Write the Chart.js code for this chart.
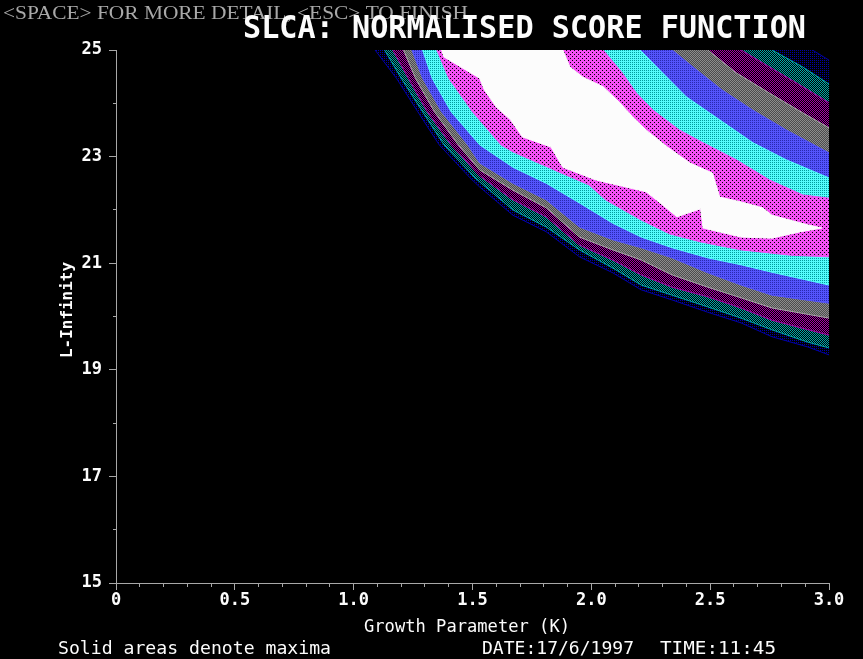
<!DOCTYPE html>
<html>
<head>
<meta charset="utf-8">
<title>SLCA: Normalised Score Function</title>
<script src="https://cdn.jsdelivr.net/npm/chart.js@4.4.1/dist/chart.umd.min.js"></script>
<style>
  html, body { margin: 0; padding: 0; background: #000; }
  #wrap { width: 863px; height: 659px; position: relative; }
</style>
</head>
<body>
<div id="wrap"><canvas id="c" width="863" height="659"></canvas></div>
<script>
// ---- Contour edges of the score surface: K (growth parameter) vs L-Infinity ----
// Level 1 is the outermost band, level 8 the maxima.
// Lower-left edge of each level.
const lower1K = [1.09, 1.18, 1.27, 1.36, 1.49, 1.53, 1.67, 1.81, 1.95, 2.09, 2.21, 2.34, 2.49, 2.63, 2.76, 2.91, 3.00];
const lower1L = [25.00, 24.47, 23.84, 23.22, 22.60, 22.43, 21.90, 21.59, 21.12, 20.82, 20.50, 20.31, 20.08, 19.88, 19.62, 19.43, 19.28];
const lower2K = [1.13, 1.20, 1.29, 1.38, 1.51, 1.67, 1.81, 1.95, 2.09, 2.21, 2.34, 2.49, 2.63, 2.76, 2.91, 3.00];
const lower2L = [25.00, 24.47, 23.84, 23.22, 22.60, 22.00, 21.68, 21.25, 20.91, 20.59, 20.40, 20.18, 19.97, 19.75, 19.52, 19.41];
const lower3K = [1.165, 1.23, 1.31, 1.41, 1.53, 1.67, 1.81, 1.95, 2.09, 2.21, 2.34, 2.49, 2.63, 2.76, 3.00];
const lower3L = [25.00, 24.47, 23.84, 23.22, 22.64, 22.19, 21.87, 21.34, 21.06, 20.78, 20.55, 20.37, 20.16, 19.93, 19.65];
const lower4K = [1.21, 1.26, 1.34, 1.44, 1.53, 1.67, 1.81, 1.95, 2.09, 2.21, 2.34, 2.49, 2.63, 2.76, 3.00];
const lower4L = [25.00, 24.47, 23.84, 23.22, 22.75, 22.37, 22.04, 21.49, 21.25, 21.06, 20.78, 20.55, 20.35, 20.16, 19.97];
const lower5K = [1.245, 1.29, 1.37, 1.48, 1.53, 1.67, 1.81, 1.95, 2.09, 2.21, 2.34, 2.49, 2.63, 2.76, 3.00];
const lower5L = [25.00, 24.47, 23.84, 23.22, 22.88, 22.50, 22.19, 21.68, 21.44, 21.29, 21.10, 20.82, 20.59, 20.40, 20.25];
const lower6K = [1.29, 1.33, 1.41, 1.53, 1.67, 1.81, 1.95, 2.09, 2.21, 2.34, 2.49, 2.63, 2.76, 2.91, 3.00];
const lower6L = [25.00, 24.47, 23.84, 23.22, 22.80, 22.50, 22.13, 21.75, 21.49, 21.29, 21.10, 20.97, 20.83, 20.68, 20.59];
const lower7K = [1.35, 1.40, 1.50, 1.62, 1.67, 1.88, 1.99, 2.06, 2.21, 2.33, 2.46, 2.63, 2.84, 3.00];
const lower7L = [25.00, 24.47, 23.84, 23.22, 23.09, 22.68, 22.47, 22.19, 21.81, 21.55, 21.40, 21.25, 21.15, 21.12];
const lower8K = [1.37, 1.38, 1.53, 1.55, 1.60, 1.66, 1.71, 1.83, 1.88, 2.02, 2.23, 2.29, 2.36, 2.46, 2.47, 2.63, 2.76, 2.88, 2.97];
const lower8L = [25.00, 24.87, 24.47, 24.25, 23.93, 23.69, 23.37, 23.18, 22.80, 22.56, 22.34, 22.13, 21.87, 22.02, 21.66, 21.49, 21.47, 21.59, 21.66];

// Upper-right edge of each level.
const upper8K = [1.88, 1.91, 1.965, 2.05, 2.12, 2.175, 2.23, 2.32, 2.415, 2.51, 2.54, 2.63, 2.72, 2.76, 2.91, 2.97];
const upper8L = [25.00, 24.68, 24.49, 24.31, 24.01, 23.74, 23.50, 23.18, 22.88, 22.69, 22.24, 22.15, 22.04, 21.90, 21.72, 21.66];
const upper7K = [2.05, 2.13, 2.19, 2.26, 2.37, 2.47, 2.61, 2.75, 2.89, 3.00];
const upper7L = [25.00, 24.57, 24.19, 23.87, 23.50, 23.26, 22.94, 22.56, 22.28, 22.22];
const upper6K = [2.205, 2.30, 2.40, 2.54, 2.68, 2.82, 3.00];
const upper6L = [25.00, 24.57, 24.12, 23.69, 23.26, 22.94, 22.60];
const upper5K = [2.34, 2.445, 2.55, 2.68, 2.82, 3.00];
const upper5L = [25.00, 24.62, 24.25, 23.87, 23.50, 23.07];
const upper4K = [2.49, 2.61, 2.75, 2.89, 3.00];
const upper4L = [25.00, 24.57, 24.19, 23.82, 23.54];
const upper3K = [2.63, 2.75, 2.89, 3.00];
const upper3L = [25.00, 24.68, 24.31, 24.01];
const upper2K = [2.76, 2.89, 3.00];
const upper2L = [25.00, 24.68, 24.36];
const upper1K = [2.93, 3.00];
const upper1L = [25.00, 24.81];

// ---- Axes ----
const xMajorValues = [0, 0.5, 1.0, 1.5, 2.0, 2.5, 3.0];
const xTickLabels = ['0', '0.5', '1.0', '1.5', '2.0', '2.5', '3.0'];
const yMajorValues = [15, 17, 19, 21, 23, 25];
const yTickLabels = ['15', '17', '19', '21', '23', '25'];

// ---- Screen texts ----
const promptText = '<SPACE> FOR MORE DETAIL, <ESC> TO FINISH';
const titleText = 'SLCA: NORMALISED SCORE FUNCTION';
const xTitle = 'Growth Parameter (K)';
const yTitle = 'L-Infinity';
const noteText = 'Solid areas denote maxima';
const dateText = 'DATE:17/6/1997';
const timeText = 'TIME:11:45';

// ---- Dithered band fills, like the EGA screen ----
function makePattern(size, base, dot, cells) {
  const c = document.createElement('canvas');
  c.width = size; c.height = size;
  const g = c.getContext('2d');
  g.fillStyle = base; g.fillRect(0, 0, size, size);
  g.fillStyle = dot;
  cells.forEach(([x, y]) => g.fillRect(x, y, 1, 1));
  return g.createPattern(c, 'repeat');
}
const bandFill = {
  black: '#000000',
  navy: makePattern(2, '#000000', '#0000a8', [[0, 0]]),
  teal: makePattern(2, '#000000', '#00a8a8', [[0, 0], [1, 1]]),
  purple: makePattern(2, '#000000', '#a800a8', [[0, 0], [1, 1]]),
  gray: makePattern(2, '#4c4c4c', '#8c8c8c', [[0, 0], [1, 1]]),
  blue: makePattern(2, '#5454fc', '#2828b0', [[0, 0]]),
  cyan: makePattern(2, '#54fcfc', '#009c9c', [[0, 0]]),
  magenta: makePattern(4, '#f450f4', '#000000', [[0, 0], [2, 2]]),
  white: '#fcfcfc'
};
const bandLine = {
  navy: '#0000a8', teal: '#00a8a8', purple: '#a800a8', gray: '#a8a8a8',
  blue: '#5454fc', cyan: '#54fcfc', magenta: '#f450f4', white: '#fcfcfc'
};

// Painted in order: each lower edge fills its level up to the top,
// then each upper edge repaints the region beyond it with the level below.
const edges = [
  { k: lower1K, l: lower1L, fill: 'navy', line: 'navy' },
  { k: lower2K, l: lower2L, fill: 'teal', line: 'teal' },
  { k: lower3K, l: lower3L, fill: 'purple', line: 'purple' },
  { k: lower4K, l: lower4L, fill: 'gray', line: 'gray' },
  { k: lower5K, l: lower5L, fill: 'blue', line: 'blue' },
  { k: lower6K, l: lower6L, fill: 'cyan', line: 'cyan' },
  { k: lower7K, l: lower7L, fill: 'magenta', line: 'magenta' },
  { k: lower8K, l: lower8L, fill: 'white', line: 'white' },
  { k: upper8K, l: upper8L, fill: 'magenta', line: 'white' },
  { k: upper7K, l: upper7L, fill: 'cyan', line: 'magenta' },
  { k: upper6K, l: upper6L, fill: 'blue', line: 'cyan' },
  { k: upper5K, l: upper5L, fill: 'gray', line: 'blue' },
  { k: upper4K, l: upper4L, fill: 'purple', line: 'gray' },
  { k: upper3K, l: upper3L, fill: 'teal', line: 'purple' },
  { k: upper2K, l: upper2L, fill: 'navy', line: 'teal' },
  { k: upper1K, l: upper1L, fill: 'black', line: 'navy' }
];

const datasets = edges.map((e, i) => ({
  data: e.k.map((x, j) => ({ x: x, y: e.l[j] })),
  fill: 'end',
  backgroundColor: bandFill[e.fill],
  borderColor: bandLine[e.line],
  borderWidth: 1,
  pointRadius: 0,
  pointHoverRadius: 0,
  tension: 0,
  order: edges.length - i
}));

const near = (a, b) => Math.abs(a - b) < 1e-6;
const labelFor = (values, labels) => v => {
  const idx = values.findIndex(m => near(m, v));
  return idx >= 0 ? labels[idx] : '';
};

// Text stretched to a given advance width.
function fitText(ctx, text, left, baseline, width, font, color) {
  ctx.save();
  ctx.font = font;
  ctx.fillStyle = color;
  ctx.textBaseline = 'alphabetic';
  ctx.textAlign = 'left';
  const w = ctx.measureText(text).width;
  ctx.translate(left, baseline);
  ctx.scale(width / w, 1);
  ctx.fillText(text, 0, 0);
  ctx.restore();
}

const screenText = {
  id: 'screenText',
  afterDraw(chart) {
    const ctx = chart.ctx;
    fitText(ctx, promptText, 3, 19, 465, '18px "Liberation Serif"', '#a8a8a8');
    fitText(ctx, titleText, 243, 38, 563, 'bold 32px "DejaVu Sans Mono"', '#fcfcfc');
    fitText(ctx, xTitle, 364, 632, 206, '17px "DejaVu Sans Mono"', '#fcfcfc');
    fitText(ctx, noteText, 58, 654, 273, '17px "DejaVu Sans Mono"', '#fcfcfc');
    fitText(ctx, dateText, 482, 654, 152, '17px "DejaVu Sans Mono"', '#fcfcfc');
    fitText(ctx, timeText, 660, 654, 116, '17px "DejaVu Sans Mono"', '#fcfcfc');
    ctx.save();
    ctx.translate(66, 310);
    ctx.rotate(-Math.PI / 2);
    fitText(ctx, yTitle, -48, 6, 96, 'bold 16px "DejaVu Sans Mono"', '#fcfcfc');
    ctx.restore();
  }
};

const tickFont = { family: 'DejaVu Sans Mono', size: 17, weight: 'bold' };

new Chart(document.getElementById('c'), {
  type: 'line',
  data: { datasets: datasets },
  options: {
    responsive: false,
    animation: false,
    devicePixelRatio: 1,
    events: [],
    layout: { padding: { top: 50, right: 34, left: 0, bottom: 0 } },
    plugins: { legend: { display: false }, tooltip: { enabled: false }, title: { display: false } },
    scales: {
      x: {
        type: 'linear', min: 0, max: 3,
        afterFit: s => { s.height = 76; },
        border: { display: true, color: '#a8a8a8', width: 1 },
        grid: {
          drawOnChartArea: false, drawTicks: true, tickLength: 7, tickColor: '#a8a8a8',
          tickBorderDash: c => (xMajorValues.some(m => near(m, c.tick.value)) ? [] : [3, 100])
        },
        ticks: {
          stepSize: 0.1, autoSkip: false, maxRotation: 0, padding: 0,
          color: '#fcfcfc', font: tickFont,
          callback: labelFor(xMajorValues, xTickLabels)
        }
      },
      y: {
        type: 'linear', min: 15, max: 25,
        afterFit: s => { s.width = 116; },
        border: { display: true, color: '#a8a8a8', width: 1 },
        grid: {
          drawOnChartArea: false, drawTicks: true, tickLength: 7, tickColor: '#a8a8a8',
          tickBorderDash: c => (yMajorValues.some(m => near(m, c.tick.value)) ? [] : [0, 4, 3, 100])
        },
        ticks: {
          stepSize: 1, autoSkip: false, padding: 7,
          color: '#fcfcfc', font: tickFont,
          callback: labelFor(yMajorValues, yTickLabels)
        }
      }
    }
  },
  plugins: [screenText]
});
</script>
</body>
</html>
